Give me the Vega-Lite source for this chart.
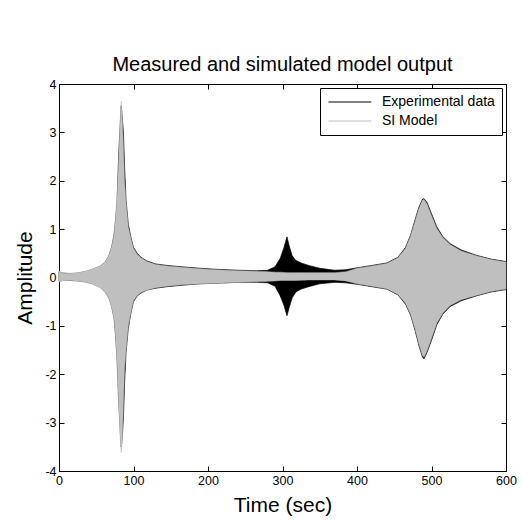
{
  "$schema": "https://vega.github.io/schema/vega-lite/v6.json",
  "autosize": "none",
  "width": 447,
  "height": 387,
  "padding": {"left": 59, "top": 84, "right": 17, "bottom": 49},
  "background": "white",
  "title": {
    "text": "Measured and simulated model output",
    "font": "Liberation Sans",
    "fontSize": 20,
    "fontWeight": "normal",
    "color": "black",
    "offset": 3
  },
  "config": {
    "view": {"stroke": "black", "strokeWidth": 1},
    "axis": {
      "labelFont": "Liberation Sans",
      "labelFontSize": 12.5,
      "labelColor": "black",
      "titleFont": "Liberation Sans",
      "titleFontSize": 21,
      "titleFontWeight": "normal",
      "titleColor": "black",
      "domainColor": "black",
      "tickColor": "black",
      "tickSize": -5,
      "grid": false
    },
    "legend": {
      "labelFont": "Liberation Sans",
      "labelFontSize": 14,
      "labelColor": "black",
      "title": null,
      "orient": "top-right",
      "offset": 4,
      "padding": 7,
      "strokeColor": "black",
      "fillColor": "white",
      "cornerRadius": 0,
      "symbolType": "M-1,0H6.8",
      "symbolSize": 121,
      "symbolStrokeWidth": 1,
      "labelOffset": 41,
      "rowPadding": 5
    }
  },
  "data": {
    "values": [
      {"t": 0, "series": "Experimental data", "hi": 0.12, "lo": -0.08},
      {"t": 5, "series": "Experimental data", "hi": 0.09, "lo": -0.06},
      {"t": 15, "series": "Experimental data", "hi": 0.08, "lo": -0.06},
      {"t": 25, "series": "Experimental data", "hi": 0.09, "lo": -0.07},
      {"t": 35, "series": "Experimental data", "hi": 0.12, "lo": -0.09},
      {"t": 45, "series": "Experimental data", "hi": 0.17, "lo": -0.13},
      {"t": 55, "series": "Experimental data", "hi": 0.23, "lo": -0.2},
      {"t": 62, "series": "Experimental data", "hi": 0.32, "lo": -0.3},
      {"t": 67, "series": "Experimental data", "hi": 0.45, "lo": -0.42},
      {"t": 71, "series": "Experimental data", "hi": 0.65, "lo": -0.62},
      {"t": 74, "series": "Experimental data", "hi": 0.9, "lo": -0.85},
      {"t": 76, "series": "Experimental data", "hi": 1.2, "lo": -1.2},
      {"t": 78, "series": "Experimental data", "hi": 1.6, "lo": -1.7},
      {"t": 80, "series": "Experimental data", "hi": 2.5, "lo": -2.5},
      {"t": 82, "series": "Experimental data", "hi": 3.1, "lo": -3.1},
      {"t": 83.5, "series": "Experimental data", "hi": 3.55, "lo": -3.5},
      {"t": 85, "series": "Experimental data", "hi": 3.3, "lo": -3.3},
      {"t": 86.5, "series": "Experimental data", "hi": 3.0, "lo": -2.9},
      {"t": 88, "series": "Experimental data", "hi": 2.3, "lo": -2.2},
      {"t": 90, "series": "Experimental data", "hi": 1.6, "lo": -1.55},
      {"t": 93, "series": "Experimental data", "hi": 1.1, "lo": -1.05},
      {"t": 97, "series": "Experimental data", "hi": 0.8, "lo": -0.7},
      {"t": 100, "series": "Experimental data", "hi": 0.62, "lo": -0.5},
      {"t": 105, "series": "Experimental data", "hi": 0.5, "lo": -0.38},
      {"t": 110, "series": "Experimental data", "hi": 0.42, "lo": -0.32},
      {"t": 118, "series": "Experimental data", "hi": 0.34, "lo": -0.26},
      {"t": 130, "series": "Experimental data", "hi": 0.28, "lo": -0.22},
      {"t": 145, "series": "Experimental data", "hi": 0.25, "lo": -0.19},
      {"t": 165, "series": "Experimental data", "hi": 0.22, "lo": -0.16},
      {"t": 190, "series": "Experimental data", "hi": 0.19, "lo": -0.13},
      {"t": 210, "series": "Experimental data", "hi": 0.17, "lo": -0.12},
      {"t": 240, "series": "Experimental data", "hi": 0.15, "lo": -0.1},
      {"t": 265, "series": "Experimental data", "hi": 0.14, "lo": -0.1},
      {"t": 280, "series": "Experimental data", "hi": 0.15, "lo": -0.11},
      {"t": 290, "series": "Experimental data", "hi": 0.22, "lo": -0.18},
      {"t": 297, "series": "Experimental data", "hi": 0.4, "lo": -0.38},
      {"t": 302, "series": "Experimental data", "hi": 0.62, "lo": -0.58},
      {"t": 306, "series": "Experimental data", "hi": 0.84, "lo": -0.79},
      {"t": 309, "series": "Experimental data", "hi": 0.65, "lo": -0.62},
      {"t": 313, "series": "Experimental data", "hi": 0.45, "lo": -0.42},
      {"t": 318, "series": "Experimental data", "hi": 0.35, "lo": -0.3},
      {"t": 325, "series": "Experimental data", "hi": 0.3, "lo": -0.24},
      {"t": 335, "series": "Experimental data", "hi": 0.25, "lo": -0.19},
      {"t": 350, "series": "Experimental data", "hi": 0.19, "lo": -0.13},
      {"t": 370, "series": "Experimental data", "hi": 0.15, "lo": -0.1},
      {"t": 385, "series": "Experimental data", "hi": 0.16, "lo": -0.11},
      {"t": 400, "series": "Experimental data", "hi": 0.2, "lo": -0.14},
      {"t": 420, "series": "Experimental data", "hi": 0.25, "lo": -0.19},
      {"t": 440, "series": "Experimental data", "hi": 0.3, "lo": -0.24},
      {"t": 455, "series": "Experimental data", "hi": 0.42, "lo": -0.36},
      {"t": 465, "series": "Experimental data", "hi": 0.62, "lo": -0.55},
      {"t": 472, "series": "Experimental data", "hi": 0.88, "lo": -0.78},
      {"t": 478, "series": "Experimental data", "hi": 1.2, "lo": -1.1},
      {"t": 483, "series": "Experimental data", "hi": 1.45, "lo": -1.4},
      {"t": 488, "series": "Experimental data", "hi": 1.62, "lo": -1.65},
      {"t": 490, "series": "Experimental data", "hi": 1.63, "lo": -1.68},
      {"t": 494, "series": "Experimental data", "hi": 1.55, "lo": -1.55},
      {"t": 500, "series": "Experimental data", "hi": 1.32, "lo": -1.3},
      {"t": 507, "series": "Experimental data", "hi": 1.05, "lo": -0.98},
      {"t": 515, "series": "Experimental data", "hi": 0.85, "lo": -0.76},
      {"t": 525, "series": "Experimental data", "hi": 0.7, "lo": -0.6},
      {"t": 540, "series": "Experimental data", "hi": 0.57, "lo": -0.48},
      {"t": 560, "series": "Experimental data", "hi": 0.46, "lo": -0.38},
      {"t": 580, "series": "Experimental data", "hi": 0.38, "lo": -0.3},
      {"t": 600, "series": "Experimental data", "hi": 0.33, "lo": -0.25},

      {"t": 0, "series": "SI Model", "hi": 0.13, "lo": -0.09},
      {"t": 5, "series": "SI Model", "hi": 0.09, "lo": -0.07},
      {"t": 15, "series": "SI Model", "hi": 0.09, "lo": -0.06},
      {"t": 25, "series": "SI Model", "hi": 0.1, "lo": -0.08},
      {"t": 35, "series": "SI Model", "hi": 0.13, "lo": -0.1},
      {"t": 45, "series": "SI Model", "hi": 0.18, "lo": -0.14},
      {"t": 55, "series": "SI Model", "hi": 0.24, "lo": -0.21},
      {"t": 62, "series": "SI Model", "hi": 0.33, "lo": -0.31},
      {"t": 67, "series": "SI Model", "hi": 0.46, "lo": -0.43},
      {"t": 71, "series": "SI Model", "hi": 0.66, "lo": -0.64},
      {"t": 74, "series": "SI Model", "hi": 0.9, "lo": -0.88},
      {"t": 76, "series": "SI Model", "hi": 1.25, "lo": -1.25},
      {"t": 78, "series": "SI Model", "hi": 1.7, "lo": -1.8},
      {"t": 80, "series": "SI Model", "hi": 2.4, "lo": -2.6},
      {"t": 82, "series": "SI Model", "hi": 3.2, "lo": -3.3},
      {"t": 83.5, "series": "SI Model", "hi": 3.65, "lo": -3.62},
      {"t": 85, "series": "SI Model", "hi": 3.3, "lo": -3.4},
      {"t": 86.5, "series": "SI Model", "hi": 2.7, "lo": -2.6},
      {"t": 88, "series": "SI Model", "hi": 2.0, "lo": -1.9},
      {"t": 90, "series": "SI Model", "hi": 1.55, "lo": -1.5},
      {"t": 93, "series": "SI Model", "hi": 1.05, "lo": -1.0},
      {"t": 97, "series": "SI Model", "hi": 0.78, "lo": -0.68},
      {"t": 100, "series": "SI Model", "hi": 0.6, "lo": -0.48},
      {"t": 105, "series": "SI Model", "hi": 0.48, "lo": -0.37},
      {"t": 110, "series": "SI Model", "hi": 0.41, "lo": -0.31},
      {"t": 118, "series": "SI Model", "hi": 0.33, "lo": -0.26},
      {"t": 130, "series": "SI Model", "hi": 0.27, "lo": -0.21},
      {"t": 145, "series": "SI Model", "hi": 0.24, "lo": -0.18},
      {"t": 165, "series": "SI Model", "hi": 0.21, "lo": -0.15},
      {"t": 190, "series": "SI Model", "hi": 0.18, "lo": -0.13},
      {"t": 210, "series": "SI Model", "hi": 0.16, "lo": -0.12},
      {"t": 240, "series": "SI Model", "hi": 0.14, "lo": -0.1},
      {"t": 265, "series": "SI Model", "hi": 0.13, "lo": -0.09},
      {"t": 280, "series": "SI Model", "hi": 0.12, "lo": -0.08},
      {"t": 290, "series": "SI Model", "hi": 0.11, "lo": -0.07},
      {"t": 297, "series": "SI Model", "hi": 0.11, "lo": -0.06},
      {"t": 306, "series": "SI Model", "hi": 0.1, "lo": -0.06},
      {"t": 318, "series": "SI Model", "hi": 0.1, "lo": -0.06},
      {"t": 335, "series": "SI Model", "hi": 0.1, "lo": -0.05},
      {"t": 350, "series": "SI Model", "hi": 0.1, "lo": -0.05},
      {"t": 370, "series": "SI Model", "hi": 0.1, "lo": -0.05},
      {"t": 385, "series": "SI Model", "hi": 0.12, "lo": -0.07},
      {"t": 400, "series": "SI Model", "hi": 0.19, "lo": -0.13},
      {"t": 420, "series": "SI Model", "hi": 0.24, "lo": -0.18},
      {"t": 440, "series": "SI Model", "hi": 0.29, "lo": -0.23},
      {"t": 455, "series": "SI Model", "hi": 0.41, "lo": -0.35},
      {"t": 465, "series": "SI Model", "hi": 0.6, "lo": -0.53},
      {"t": 472, "series": "SI Model", "hi": 0.86, "lo": -0.76},
      {"t": 478, "series": "SI Model", "hi": 1.17, "lo": -1.07},
      {"t": 483, "series": "SI Model", "hi": 1.42, "lo": -1.37},
      {"t": 488, "series": "SI Model", "hi": 1.6, "lo": -1.62},
      {"t": 490, "series": "SI Model", "hi": 1.61, "lo": -1.65},
      {"t": 494, "series": "SI Model", "hi": 1.52, "lo": -1.52},
      {"t": 500, "series": "SI Model", "hi": 1.28, "lo": -1.26},
      {"t": 507, "series": "SI Model", "hi": 1.02, "lo": -0.95},
      {"t": 515, "series": "SI Model", "hi": 0.83, "lo": -0.74},
      {"t": 525, "series": "SI Model", "hi": 0.68, "lo": -0.58},
      {"t": 540, "series": "SI Model", "hi": 0.55, "lo": -0.46},
      {"t": 560, "series": "SI Model", "hi": 0.45, "lo": -0.37},
      {"t": 580, "series": "SI Model", "hi": 0.37, "lo": -0.29},
      {"t": 600, "series": "SI Model", "hi": 0.32, "lo": -0.24}
    ]
  },
  "layer": [
    {
      "transform": [{"filter": "datum.series === 'Experimental data'"}],
      "mark": {"type": "area", "opacity": 1, "strokeWidth": 0.7},
      "encoding": {
        "x": {
          "field": "t", "type": "quantitative",
          "scale": {"domain": [0, 600], "nice": false, "zero": false},
          "axis": {"orient": "bottom", "values": [0, 100, 200, 300, 400, 500, 600], "title": "Time (sec)", "labelPadding": 8, "titlePadding": 8, "labelFlush": false}
        },
        "y": {
          "field": "hi", "type": "quantitative",
          "scale": {"domain": [-4, 4], "nice": false, "zero": false},
          "axis": {"orient": "left", "values": [-4, -3, -2, -1, 0, 1, 2, 3, 4], "title": "Amplitude", "labelPadding": 8, "titlePadding": 9, "labelExpr": "toString(datum.value)", "labelFlush": false}
        },
        "y2": {"field": "lo"},
        "color": {
          "field": "series", "type": "nominal",
          "scale": {"domain": ["Experimental data", "SI Model"], "range": ["black", "#bfbfbf"]}
        },
        "stroke": {
          "field": "series", "type": "nominal",
          "scale": {"domain": ["Experimental data", "SI Model"], "range": ["black", "#bfbfbf"]}
        }
      }
    },
    {
      "transform": [{"filter": "datum.series === 'SI Model'"}],
      "mark": {"type": "area", "opacity": 1, "strokeWidth": 0.5},
      "encoding": {
        "x": {
          "field": "t", "type": "quantitative",
          "axis": {"orient": "top", "values": [0, 100, 200, 300, 400, 500, 600], "labels": false, "title": null, "domain": false}
        },
        "y": {
          "field": "hi", "type": "quantitative",
          "axis": {"orient": "right", "values": [-4, -3, -2, -1, 0, 1, 2, 3, 4], "labels": false, "title": null, "domain": false}
        },
        "y2": {"field": "lo"},
        "color": {"field": "series", "type": "nominal"},
        "stroke": {"field": "series", "type": "nominal"}
      }
    }
  ],
  "resolve": {"axis": {"x": "independent", "y": "independent"}}
}
